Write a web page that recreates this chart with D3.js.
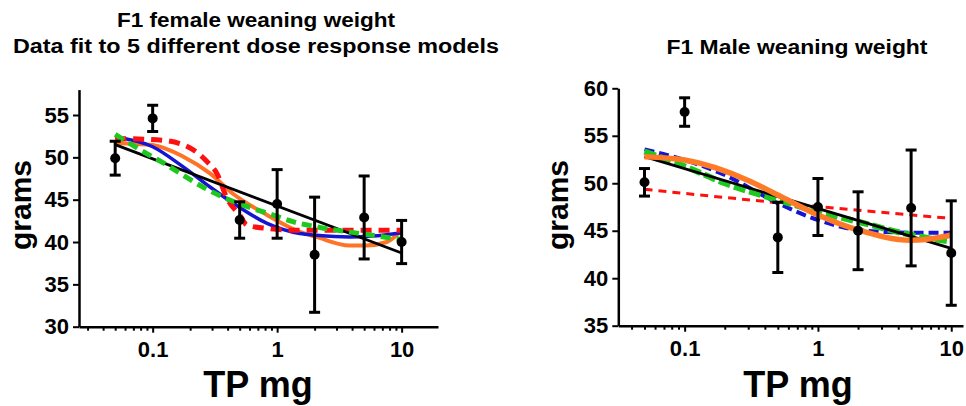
<!DOCTYPE html>
<html>
<head>
<meta charset="utf-8">
<script src="https://cdn.jsdelivr.net/npm/d3@7"></script>
<style>
  body { margin: 0; background: #fff; }
  svg { display: block; font-family: "Liberation Sans", Arial, sans-serif; }
  text { font-weight: bold; fill: #000; }
</style>
</head>
<body>
<div id="chart"></div>
<script>
// measured doses and group means / error (grams)
var doses = [0.05, 0.1, 0.5, 1, 2, 5, 10];
var femaleMean = [49.9, 54.6, 42.6, 44.5, 38.5, 42.9, 40.0];
var femaleErr = [2.0, 1.55, 2.15, 4.05, 6.8, 4.9, 2.55];
var maleMean = [50.1, 57.5, 44.3, 47.5, 45.0, 47.4, 42.65];
var maleErr = [1.45, 1.5, 3.7, 3.0, 4.1, 6.1, 5.5];

// fitted curves
var fRedX = [0.05, 0.058, 0.121, 0.2, 0.273, 0.328, 0.4, 0.5, 0.571, 0.83, 1.34, 10];
var fRedY = [52.1, 52.2, 52.0, 51.1, 49.5, 48.1, 45.0, 43.2, 42.0, 41.6, 41.4, 41.4];
var fBlueX = [0.05, 0.1, 0.175, 0.289, 0.442, 0.83, 1.52, 2.07, 3.8, 5.8, 10];
var fBlueY = [52.4, 51.25, 48.9, 46.5, 44.6, 42.2, 41.0, 40.8, 40.6, 40.7, 41.1];
var fGreenX = [0.05, 0.079, 0.13, 0.175, 0.253, 0.367, 0.571, 0.92, 1.34, 2.07, 5.2, 10];
var fGreenY = [52.7, 50.9, 49.1, 47.9, 46.5, 45.3, 44.2, 43.2, 42.4, 41.8, 40.9, 40.3];
var fOrangeX = [0.05, 0.1, 0.175, 0.289, 0.442, 0.83, 1.52, 2.07, 3.8, 5.2, 7.6, 10];
var fOrangeY = [51.7, 51.45, 50.1, 48.1, 45.7, 43.2, 41.2, 40.6, 39.6, 39.6, 40.0, 41.4];
var fBlackX = [0.05, 10];
var fBlackY = [51.5, 38.7];

var mRedX = [0.05, 1, 10];
var mRedY = [49.36, 47.55, 46.3];
var mBlueX = [0.05, 0.1, 0.2, 0.5, 1, 2, 5, 10];
var mBlueY = [53.57, 52.45, 50.87, 47.9, 46.13, 45.08, 44.8, 44.8];
var mGreenX = [0.05, 0.1, 0.2, 0.5, 1, 2, 5, 10];
var mGreenY = [53.33, 51.8, 50.0, 48.24, 47.0, 45.95, 44.55, 43.85];
var mOrangeX = [0.05, 0.1, 0.3, 0.5, 1, 2, 5, 7.5, 10];
var mOrangeY = [52.8, 52.45, 50.3, 48.76, 46.66, 45.08, 44.0, 44.2, 44.55];
var mBlackX = [0.05, 10];
var mBlackY = [52.8, 43.15];

var yTicksF = [30, 35, 40, 45, 50, 55];
var yTicksM = [35, 40, 45, 50, 55, 60];
var xMajor = [0.1, 1, 10];

var W = 966, H = 406;
var svg = d3.select("#chart").append("svg").attr("width", W).attr("height", H);

function zip(xs, ys) {
    return xs.map(function (x, i) { return { x: x, y: ys[i] }; });
}

var panels = [
    {
        title: ["F1 female weaning weight", "Data fit to 5 different dose response models"],
        titleX: 256, titleY: [27, 53], titleLen: [278, 486],
        xDomain: [0.0256, 19.6], xRange: [79, 438],
        yDomain: [30, 58], yRange: [326.7, 89.6], yTicks: yTicksF,
        mean: femaleMean, err: femaleErr,
        curves: [
            { x: fOrangeX, y: fOrangeY, color: "#ff7326", width: 4, dash: null },
            { x: fBlueX, y: fBlueY, color: "#1414d2", width: 3.5, dash: null },
            { x: fRedX, y: fRedY, color: "#ff1010", width: 5, dash: "11,7" },
            { x: fBlackX, y: fBlackY, color: "#000", width: 2.8, dash: null },
            { x: fGreenX, y: fGreenY, color: "#1ec81e", width: 5, dash: "10,6" }
        ],
        gramsX: 31, tpX: 258
    },
    {
        title: ["F1 Male weaning weight"],
        titleX: 797, titleY: [54], titleLen: [261],
        xDomain: [0.0318, 12.25], xRange: [618.3, 963],
        yDomain: [35, 60], yRange: [325.7, 88.3], yTicks: yTicksM,
        mean: maleMean, err: maleErr,
        curves: [
            { x: mRedX, y: mRedY, color: "#ff1010", width: 3, dash: "8,6" },
            { x: mBlueX, y: mBlueY, color: "#1414d2", width: 4, dash: "10,5" },
            { x: mGreenX, y: mGreenY, color: "#1ec81e", width: 6, dash: "12,4" },
            { x: mBlackX, y: mBlackY, color: "#000", width: 2.8, dash: null },
            { x: mOrangeX, y: mOrangeY, color: "#ff7a26", width: 5.5, dash: null }
        ],
        gramsX: 568, tpX: 798
    }
];

panels.forEach(function (p) {
    var g = svg.append("g");
    var x = d3.scaleLog().domain(p.xDomain).range(p.xRange);
    var y = d3.scaleLinear().domain(p.yDomain).range(p.yRange);
    var y0 = p.yRange[0];

    // titles
    p.title.forEach(function (t, i) {
        g.append("text").attr("x", p.titleX).attr("y", p.titleY[i])
            .attr("text-anchor", "middle").style("font-size", "20px")
            .attr("textLength", p.titleLen[i]).attr("lengthAdjust", "spacingAndGlyphs")
            .text(t);
    });

    // minor x ticks
    var minor = [];
    [0.01, 0.1, 1, 10].forEach(function (dec) {
        for (var k = 2; k <= 9; k++) {
            var v = dec * k;
            if (v >= p.xDomain[0] && v <= p.xDomain[1]) minor.push(v);
        }
    });
    g.append("g").attr("transform", "translate(0," + y0 + ")")
        .call(d3.axisBottom(x).tickValues(minor).tickSize(4).tickFormat(""))
        .call(function (a) {
            a.select(".domain").remove();
            a.selectAll("line").attr("stroke", "#000").attr("stroke-width", 2);
        });

    var xAxis = g.append("g").attr("transform", "translate(0," + y0 + ")")
        .call(d3.axisBottom(x).tickValues(xMajor).tickSize(6).tickSizeOuter(0).tickPadding(9)
            .tickFormat(function (d) { return String(d); }));
    xAxis.select(".domain").attr("stroke", "#000").attr("stroke-width", 2.5);
    xAxis.selectAll("line").attr("stroke", "#000").attr("stroke-width", 2);
    xAxis.selectAll("text").style("font-size", "22px").style("font-family", "Liberation Sans, Arial");

    var yAxis = g.append("g").attr("transform", "translate(" + p.xRange[0] + ",0)")
        .call(d3.axisLeft(y).tickValues(p.yTicks).tickSize(6).tickSizeOuter(0).tickPadding(4));
    yAxis.select(".domain").attr("stroke", "#000").attr("stroke-width", 2.5);
    yAxis.selectAll("line").attr("stroke", "#000").attr("stroke-width", 2);
    yAxis.selectAll("text").style("font-size", "22px").style("font-family", "Liberation Sans, Arial");

    // axis titles
    g.append("text").attr("transform", "translate(" + p.gramsX + ",205) rotate(-90)")
        .attr("text-anchor", "middle").style("font-size", "30px").text("grams");
    g.append("text").attr("x", p.tpX).attr("y", 397)
        .attr("text-anchor", "middle").style("font-size", "36px").text("TP mg");

    // fitted curves
    var line = d3.line()
        .x(function (d) { return x(d.x); })
        .y(function (d) { return y(d.y); })
        .curve(d3.curveMonotoneX);
    p.curves.forEach(function (c) {
        g.append("path")
            .attr("d", line(zip(c.x, c.y)))
            .attr("fill", "none")
            .attr("stroke", c.color)
            .attr("stroke-width", c.width)
            .attr("stroke-dasharray", c.dash);
    });

    // error bars and means
    var pts = doses.map(function (d, i) { return { x: d, m: p.mean[i], e: p.err[i] }; });
    var eb = g.append("g").selectAll("g").data(pts).enter().append("g")
        .attr("stroke", "#000").attr("stroke-width", 3);
    eb.append("line")
        .attr("x1", function (d) { return x(d.x); }).attr("x2", function (d) { return x(d.x); })
        .attr("y1", function (d) { return y(d.m - d.e); }).attr("y2", function (d) { return y(d.m + d.e); });
    [-1, 1].forEach(function (s) {
        eb.append("line")
            .attr("x1", function (d) { return x(d.x) - 5.5; }).attr("x2", function (d) { return x(d.x) + 5.5; })
            .attr("y1", function (d) { return y(d.m + s * d.e); }).attr("y2", function (d) { return y(d.m + s * d.e); });
    });
    g.append("g").selectAll("circle").data(pts).enter().append("circle")
        .attr("cx", function (d) { return x(d.x); })
        .attr("cy", function (d) { return y(d.m); })
        .attr("r", 5)
        .attr("fill", "#000");
});
</script>
</body>
</html>
